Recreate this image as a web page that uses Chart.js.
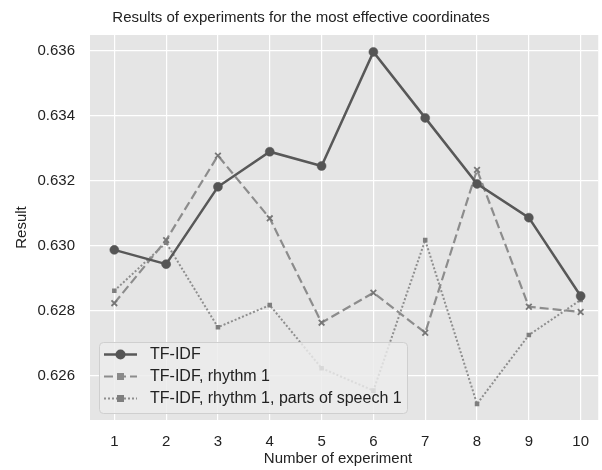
<!DOCTYPE html>
<html>
<head>
<meta charset="utf-8">
<script src="https://cdn.jsdelivr.net/npm/chart.js@4.4.0/dist/chart.umd.min.js"></script>
<style>
  html, body { margin: 0; padding: 0; background: #ffffff; }
  #wrap { width: 602px; height: 470px; position: relative; }
</style>
</head>
<body>
<div id="wrap"><canvas id="c" width="602" height="470"></canvas></div>
<script>
const experiments = [1, 2, 3, 4, 5, 6, 7, 8, 9, 10];
const tfidf = [0.62988, 0.62944, 0.63182, 0.63290, 0.63246, 0.63597, 0.63394, 0.63191, 0.63087, 0.62846];
const tfidfRhythm = [0.62824, 0.63018, 0.63278, 0.63085, 0.62764, 0.62856, 0.62733, 0.63234, 0.62813, 0.62797];
const tfidfRhythmPos = [0.62862, 0.63010, 0.62750, 0.62818, 0.62624, 0.62555, 0.63018, 0.62514, 0.62726, 0.62834];
const yTickValues = [0.626, 0.628, 0.630, 0.632, 0.634, 0.636];
const xTickValues = [1, 2, 3, 4, 5, 6, 7, 8, 9, 10];
const seriesLabels = ["TF-IDF", "TF-IDF, rhythm 1", "TF-IDF, rhythm 1, parts of speech 1"];
const titleText = "Results of experiments for the most effective coordinates";
const xTitleText = "Number of experiment";
const yTitleText = "Result";

const FONT = "'Liberation Sans', Arial, sans-serif";
const toXY = (arr) => arr.map((v, i) => ({ x: experiments[i], y: v }));

const bgPlugin = {
  id: 'plotBg',
  beforeDraw(chart) {
    const { ctx, chartArea: a } = chart;
    ctx.save();
    ctx.fillStyle = '#e5e5e5';
    ctx.fillRect(a.left, a.top, a.right - a.left, a.bottom - a.top);
    ctx.restore();
  }
};

const xTitlePlugin = {
  id: 'xTitle',
  afterDraw(chart) {
    const { ctx } = chart;
    ctx.save();
    ctx.font = '15px ' + FONT;
    ctx.fillStyle = '#222222';
    ctx.textAlign = 'center';
    ctx.textBaseline = 'middle';
    ctx.fillText(xTitleText, 338, 459);
    ctx.restore();
  }
};

const legendPlugin = {
  id: 'innerLegend',
  afterDatasetsDraw(chart) {
    const { ctx } = chart;
    const x0 = 99, y0 = 342, w = 308, h = 71, r = 4;
    ctx.save();
    ctx.beginPath();
    ctx.roundRect(x0 + 0.5, y0 + 0.5, w, h, r);
    ctx.fillStyle = 'rgba(235,235,235,0.82)';
    ctx.fill();
    ctx.strokeStyle = '#cfcfcf';
    ctx.lineWidth = 1;
    ctx.stroke();
    const rows = [354.5, 376.5, 398.5];
    chart.data.datasets.forEach((ds, i) => {
      const y = rows[i];
      ctx.beginPath();
      ctx.setLineDash(ds.borderDash || []);
      ctx.strokeStyle = ds.borderColor;
      ctx.lineWidth = ds.borderWidth;
      ctx.moveTo(104, y);
      ctx.lineTo(137, y);
      ctx.stroke();
      ctx.setLineDash([]);
      ctx.fillStyle = ds.pointBackgroundColor;
      if (i === 0) {
        ctx.beginPath();
        ctx.arc(120.5, y, 5, 0, Math.PI * 2);
        ctx.fill();
      } else {
        ctx.fillRect(117, y - 3.5, 7, 7);
      }
      ctx.font = '16px ' + FONT;
      ctx.fillStyle = '#222222';
      ctx.textAlign = 'left';
      ctx.textBaseline = 'middle';
      ctx.fillText(ds.label, 150, y + 0.5);
    });
    ctx.restore();
  }
};

new Chart(document.getElementById('c'), {
  type: 'line',
  data: {
    datasets: [
      {
        label: seriesLabels[0],
        data: toXY(tfidf),
        borderColor: '#585858',
        borderWidth: 2.5,
        pointStyle: 'circle',
        pointRadius: 4.5,
        pointBackgroundColor: '#555555',
        pointBorderColor: '#555555',
        pointBorderWidth: 0.5,
        tension: 0
      },
      {
        label: seriesLabels[1],
        data: toXY(tfidfRhythm),
        borderColor: '#8c8c8c',
        borderWidth: 2.2,
        borderDash: [9, 4],
        pointStyle: 'crossRot',
        pointRadius: 4,
        pointBackgroundColor: '#8a8a8a',
        pointBorderColor: '#777777',
        pointBorderWidth: 1.8,
        tension: 0
      },
      {
        label: seriesLabels[2],
        data: toXY(tfidfRhythmPos),
        borderColor: '#8e8e8e',
        borderWidth: 2,
        borderDash: [2, 2],
        pointStyle: 'rect',
        pointRadius: 3.2,
        pointBackgroundColor: '#7e7e7e',
        pointBorderColor: '#7e7e7e',
        pointBorderWidth: 0,
        tension: 0
      }
    ]
  },
  options: {
    responsive: false,
    animation: false,
    devicePixelRatio: 1,
    layout: { padding: 0, autoPadding: false },
    plugins: {
      legend: { display: false },
      tooltip: { enabled: false },
      title: {
        display: true,
        text: titleText,
        color: '#222222',
        font: { family: FONT, size: 15, weight: 'normal', lineHeight: 1.2 },
        padding: { top: 9, bottom: 8 }
      }
    },
    scales: {
      x: {
        type: 'linear',
        min: 0.5307,
        max: 10.339,
        afterBuildTicks(scale) { scale.ticks = xTickValues.map(v => ({ value: v })); },
        afterFit(scale) { scale.height = 50; },
        grid: { color: '#ffffff', lineWidth: 1.2, drawTicks: false },
        border: { display: false },
        ticks: {
          color: '#222222',
          font: { family: FONT, size: 15 },
          padding: 13,
          maxRotation: 0,
          autoSkip: false
        }
      },
      y: {
        type: 'linear',
        min: 0.624646,
        max: 0.63649,
        afterBuildTicks(scale) { scale.ticks = yTickValues.map(v => ({ value: v })); },
        afterFit(scale) { scale.width = 90; },
        grid: { color: '#ffffff', lineWidth: 1.2, drawTicks: false },
        border: { display: false },
        title: {
          display: true,
          text: yTitleText,
          color: '#222222',
          font: { family: FONT, size: 15 },
          padding: { top: 13, bottom: 0 }
        },
        ticks: {
          color: '#222222',
          font: { family: FONT, size: 15 },
          padding: 15,
          callback: (v) => Number(v).toFixed(3)
        }
      }
    }
  },
  plugins: [bgPlugin, legendPlugin, xTitlePlugin]
});
</script>
</body>
</html>
